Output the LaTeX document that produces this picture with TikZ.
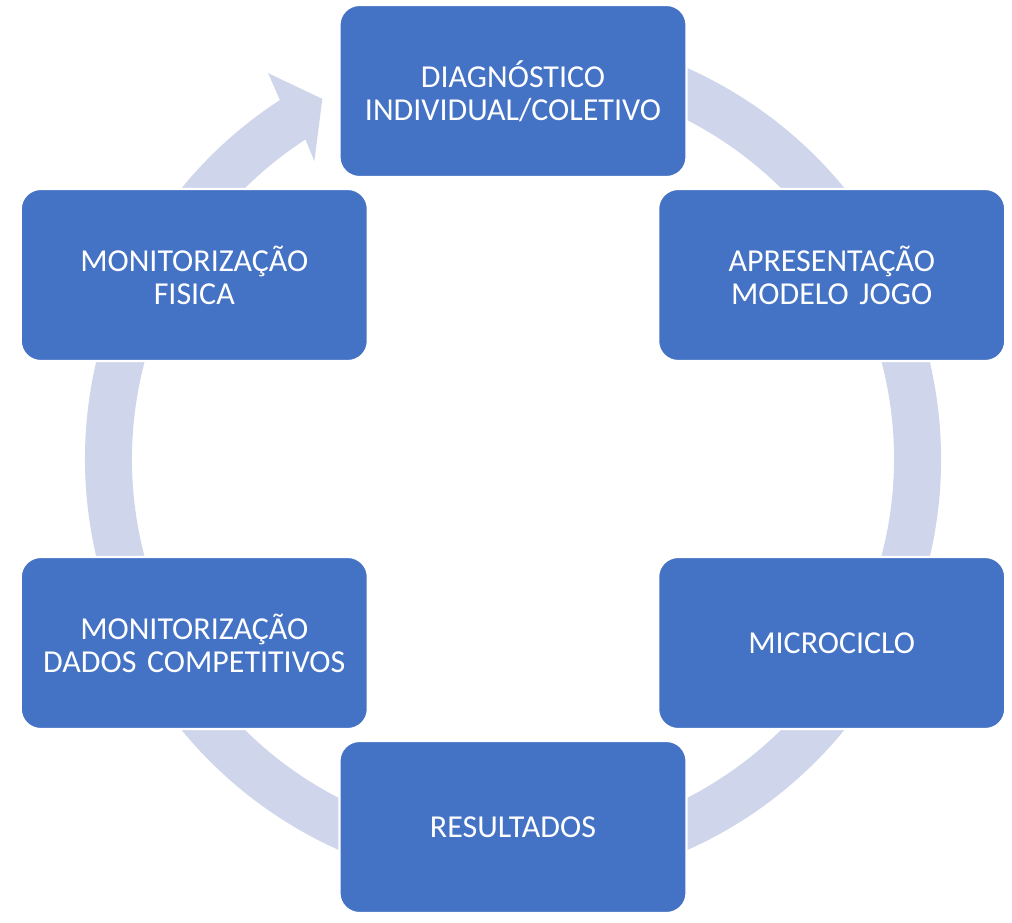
\documentclass[tikz,border=0pt]{standalone}
\usepackage{fontspec}
\setmainfont{Carlito}
\definecolor{mblue}{HTML}{4472C4}
\definecolor{mring}{HTML}{CFD5EA}
\tikzstyle{etapa} = [rectangle, rounded corners=0.4cm, minimum width=6.94cm, minimum height=3.44cm, text width=6.6cm, align=center, text=white, fill=mblue, draw=white, line width=1.2pt, font=\fontsize{18.2}{18.8}\selectfont]
\tikzstyle{ciclo} = [fill=mring]

\begin{document}
\begin{tikzpicture}
  \useasboundingbox (-10.26,-9.26) rectangle (9.98,9.18);
  % anel com seta
  \fill [ciclo] (100:8.56) arc[start angle=100, end angle=-237, radius=8.56]
    -- (-237.6:9.14) -- (-242.1:8.15) -- (-236.3:7.16) -- (-237:7.62)
    arc[start angle=-237, end angle=100, radius=7.62] -- cycle;
  % etapas
  \node (diag) [etapa] at (90:7.36) {DIAGNÓSTICO\\INDIVIDUAL/COLETIVO};
  \node (modelo) [etapa] at (30:7.36) {APRESENTAÇÃO\\MODELO JOGO};
  \node (micro) [etapa] at (-30:7.36) {MICROCICLO};
  \node (result) [etapa] at (-90:7.36) {RESULTADOS};
  \node (dados) [etapa] at (-150:7.36) {MONITORIZAÇÃO\\DADOS COMPETITIVOS};
  \node (fisica) [etapa] at (150:7.36) {MONITORIZAÇÃO\\FISICA};
\end{tikzpicture}
\end{document}
